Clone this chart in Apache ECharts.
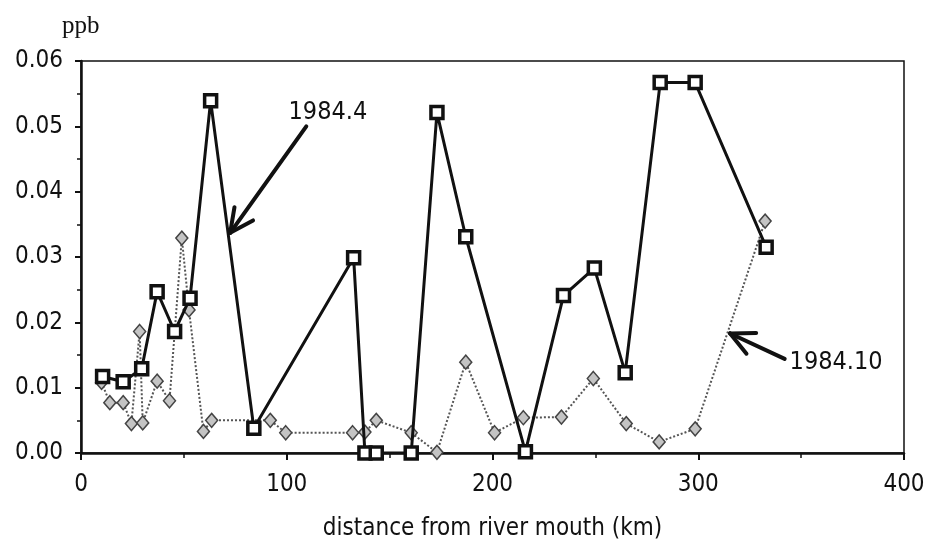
<!DOCTYPE html>
<html>
<head>
<meta charset="utf-8">
<script src="https://cdn.jsdelivr.net/npm/echarts@6/dist/echarts.min.js"></script>
<style>
  html, body { margin: 0; padding: 0; background: #fff; }
  #chart { width: 932px; height: 546px; }
</style>
</head>
<body>
<div id="chart"></div>
<script>
// ========================================
// DATA
// ========================================

// 1984.4 survey - black squares, solid line
var aprKm  = [10.5, 20.5, 29.5, 37, 45.5, 53, 63, 84, 132.5, 138, 143.5, 160.5, 173, 187, 216, 234.5, 249.5, 264.5, 281.5, 298.5, 333];
var aprPpb = [0.0117, 0.0109, 0.0129, 0.0247, 0.0186, 0.0237, 0.0539, 0.0038, 0.0299, 0, 0, 0, 0.0521, 0.0331, 0.0002, 0.0241, 0.0283, 0.0123, 0.0567, 0.0567, 0.0315];

// 1984.10 survey - grey diamonds, dotted line
var octKm  = [10, 14, 20.5, 24.5, 28.5, 30, 37, 43, 49, 52.5, 59.5, 63.5, 92, 99.5, 132, 138, 143.5, 160.5, 173, 187, 201, 215, 233.5, 249, 265, 281, 298.5, 332.5];
var octPpb = [0.0108, 0.0077, 0.0077, 0.0045, 0.0186, 0.0046, 0.011, 0.008, 0.0329, 0.0219, 0.0033, 0.005, 0.005, 0.0031, 0.0031, 0.0032, 0.005, 0.0031, 0.0001, 0.0139, 0.0031, 0.0054, 0.0055, 0.0114, 0.0045, 0.0017, 0.0037, 0.0355];

// axis ranges / ticks
var xMin = 0, xMax = 400, xStep = 100;
var yMin = 0, yMax = 0.06, yStep = 0.01;

// labels + arrows: [text, textPos, arrowTail, arrowTip] in data units
var notes = [
  ['1984.4',  [120, 0.0521], [109.5, 0.0500], [72.5, 0.0337]],
  ['1984.10', [367, 0.0139], [342, 0.0144],   [315.5, 0.0183]]
];

var FONT = "'DejaVu Sans Condensed', 'DejaVu Sans', sans-serif";

function pairs(xs, ys) {
  return xs.map(function (x, i) { return [x, ys[i]]; });
}

var chart = echarts.init(document.getElementById('chart'), null, { renderer: 'canvas' });

chart.setOption({
  animation: false,
  backgroundColor: '#fff',
  grid: {
    left: 81, right: 28, top: 61, bottom: 88,
    show: true, borderColor: '#111', borderWidth: 1.5, backgroundColor: 'transparent'
  },
  xAxis: {
    type: 'value', min: xMin, max: xMax, interval: xStep,
    name: 'distance from river mouth (km)', nameLocation: 'middle', nameGap: 64,
    nameTextStyle: { fontFamily: FONT, fontSize: 24, color: '#111' },
    axisLine: { show: true, onZero: false, lineStyle: { color: '#111', width: 2.5 } },
    axisTick: { show: true, length: 7, lineStyle: { color: '#111', width: 2 } },
    minorTick: { show: true, splitNumber: 2, length: 5, lineStyle: { color: '#111', width: 1.5 } },
    splitLine: { show: false },
    axisLabel: { fontFamily: FONT, fontSize: 24, color: '#111', margin: 20 }
  },
  yAxis: {
    type: 'value', min: yMin, max: yMax, interval: yStep,
    axisLine: { show: true, lineStyle: { color: '#111', width: 2.5 } },
    axisTick: { show: true, length: 6, lineStyle: { color: '#111', width: 2 } },
    minorTick: { show: true, splitNumber: 2, length: 4, lineStyle: { color: '#111', width: 1.5 } },
    splitLine: { show: false },
    axisLabel: {
      fontFamily: FONT, fontSize: 24, color: '#111', margin: 18,
      formatter: function (v) { return v.toFixed(2); }
    }
  },
  series: [
    {
      name: '1984.10', type: 'line', data: pairs(octKm, octPpb),
      symbol: 'diamond', symbolSize: [12, 14],
      lineStyle: { color: '#555', width: 2, type: 'dotted' },
      itemStyle: { color: '#c4c4c4', borderColor: '#444', borderWidth: 1.5 },
      z: 2
    },
    {
      name: '1984.4', type: 'line', data: pairs(aprKm, aprPpb),
      symbol: 'rect', symbolSize: 12,
      lineStyle: { color: '#111', width: 3 },
      itemStyle: { color: '#fff', borderColor: '#111', borderWidth: 3.5 },
      z: 3
    }
  ]
});

// ========================================
// ANNOTATIONS (labels and open arrows)
// ========================================

function arrowGraphics(tail, tip) {
  var a = chart.convertToPixel({ gridIndex: 0 }, tail);
  var b = chart.convertToPixel({ gridIndex: 0 }, tip);
  var ang = Math.atan2(a[1] - b[1], a[0] - b[0]);
  var len = 26, spread = 26 * Math.PI / 180;
  var style = { stroke: '#111', lineWidth: 4, lineCap: 'round' };
  var out = [{ type: 'line', shape: { x1: a[0], y1: a[1], x2: b[0], y2: b[1] }, style: style, z: 10 }];
  [-spread, spread].forEach(function (s) {
    out.push({
      type: 'line',
      shape: { x1: b[0], y1: b[1], x2: b[0] + len * Math.cos(ang + s), y2: b[1] + len * Math.sin(ang + s) },
      style: style, z: 10
    });
  });
  return out;
}

var gfx = [];
notes.forEach(function (n) {
  var p = chart.convertToPixel({ gridIndex: 0 }, n[1]);
  gfx.push({
    type: 'text', x: p[0], y: p[1], z: 10,
    style: { text: n[0], font: '25px ' + FONT, fill: '#111', align: 'center', verticalAlign: 'middle' }
  });
  gfx = gfx.concat(arrowGraphics(n[2], n[3]));
});

// unit label at top-left of the axis
gfx.push({
  type: 'text', x: 62, y: 39, z: 10,
  style: { text: 'ppb', font: "25px 'Liberation Serif', 'DejaVu Serif', serif", fill: '#111', align: 'left', verticalAlign: 'bottom' }
});

chart.setOption({ graphic: gfx });
</script>
</body>
</html>
